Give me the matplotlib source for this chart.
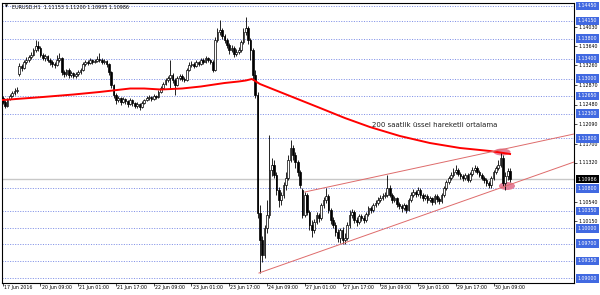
"""
EURUSD H1 candlestick chart, 17-30 Jun 2016, with the 200 EMA and a wedge.
"""

import matplotlib
matplotlib.use('Agg')
import matplotlib.pyplot as plt
import matplotlib.transforms as mtransforms
from matplotlib.patches import Ellipse

# Price data (H1 bars, bar 0 = 17 Jun 17:00)
# ----------------------------------------------------------------------------

opens = [
    1.1261, 1.1253, 1.1245, 1.1259, 1.1265, 1.1271, 1.1275, 1.1309, 1.1325, 1.1321, 1.1333, 1.1337,
    1.1343, 1.1347, 1.1357, 1.1365, 1.1361, 1.1347, 1.1341, 1.1345, 1.1337, 1.1333, 1.1329, 1.1327,
    1.1337, 1.1341, 1.1313, 1.1309, 1.1317, 1.1307, 1.1311, 1.1305, 1.1309, 1.1313, 1.1317, 1.1329,
    1.1333, 1.1331, 1.1337, 1.1333, 1.1335, 1.1339, 1.1337, 1.1333, 1.1335, 1.1329, 1.1313, 1.1287,
    1.1267, 1.1257, 1.1261, 1.1253, 1.1259, 1.1255, 1.1249, 1.1257, 1.1251, 1.1245, 1.1249, 1.1243,
    1.1251, 1.1257, 1.1261, 1.1263, 1.1259, 1.1265, 1.1263, 1.1273, 1.1281, 1.1289, 1.1297, 1.1301,
    1.1307, 1.1297, 1.1287, 1.1301, 1.1305, 1.1299, 1.1297, 1.1317, 1.1327, 1.1329, 1.1325, 1.1333,
    1.1329, 1.1337, 1.1333, 1.1341, 1.1337, 1.1333, 1.1317, 1.1377, 1.1393, 1.1397, 1.1385, 1.1377,
    1.1367, 1.1357, 1.1361, 1.1349, 1.1353, 1.1357, 1.1373, 1.1393, 1.1401, 1.1377, 1.1357, 1.1307,
    1.1267, 1.1031, 1.0977, 1.0947, 1.1001, 1.1027, 1.1117, 1.1127, 1.1107, 1.1077, 1.1057, 1.1067,
    1.1087, 1.1101, 1.1137, 1.1161, 1.1147, 1.1133, 1.1113, 1.1077, 1.1027, 1.1067, 1.1033, 1.1007,
    1.0997, 1.1013, 1.1027, 1.1021, 1.1047, 1.1057, 1.1065, 1.1037, 1.1017, 1.1007, 1.0993, 1.0981,
    1.0997, 1.0977, 1.0981, 1.1007, 1.1027, 1.1033, 1.1017, 1.1013, 1.1025, 1.1021, 1.1017, 1.1029,
    1.1041, 1.1037, 1.1047, 1.1051, 1.1057, 1.1061, 1.1065, 1.1067, 1.1081, 1.1067, 1.1057, 1.1061,
    1.1049, 1.1045, 1.1041, 1.1047, 1.1037, 1.1057, 1.1067, 1.1073, 1.1069, 1.1077, 1.1067, 1.1061,
    1.1065, 1.1057, 1.1061, 1.1053, 1.1065, 1.1059, 1.1055, 1.1067, 1.1081, 1.1093, 1.1101, 1.1107,
    1.1113, 1.1117, 1.1109, 1.1105, 1.1101, 1.1107, 1.1097, 1.1109, 1.1117, 1.1121, 1.1113, 1.1107,
    1.1101, 1.1097, 1.1091, 1.1087, 1.1101, 1.1113, 1.1121, 1.1127, 1.1141, 1.1091, 1.1105, 1.11153,
]

highs = [
    1.1265, 1.1257, 1.1261, 1.1269, 1.1275, 1.1281, 1.1283, 1.1331, 1.1329, 1.1337, 1.1343, 1.1347,
    1.1353, 1.1361, 1.1377, 1.1375, 1.1365, 1.1351, 1.1349, 1.1347, 1.1341, 1.1337, 1.1333, 1.1347,
    1.1351, 1.1343, 1.1317, 1.1319, 1.1321, 1.1315, 1.1313, 1.1313, 1.1317, 1.1321, 1.1333, 1.1337,
    1.1337, 1.1341, 1.1339, 1.1339, 1.1345, 1.1351, 1.1341, 1.1339, 1.1337, 1.1331, 1.1315, 1.1289,
    1.1271, 1.1265, 1.1263, 1.1263, 1.1261, 1.1257, 1.1261, 1.1259, 1.1253, 1.1253, 1.1251, 1.1255,
    1.1259, 1.1265, 1.1267, 1.1265, 1.1269, 1.1267, 1.1277, 1.1285, 1.1293, 1.1301, 1.1305, 1.1337,
    1.1311, 1.1301, 1.1305, 1.1309, 1.1309, 1.1303, 1.1321, 1.1333, 1.1335, 1.1333, 1.1337, 1.1335,
    1.1341, 1.1341, 1.1345, 1.1343, 1.1339, 1.1337, 1.1383, 1.1401, 1.1417, 1.1401, 1.1389, 1.1381,
    1.1371, 1.1367, 1.1365, 1.1359, 1.1363, 1.1377, 1.1401, 1.1423, 1.1405, 1.1381, 1.1361, 1.1317,
    1.1273, 1.1047, 1.0985, 1.1007, 1.1057, 1.1187, 1.1141, 1.1137, 1.1113, 1.1083, 1.1073, 1.1093,
    1.1113, 1.1147, 1.1177, 1.1167, 1.1153, 1.1137, 1.1117, 1.1081, 1.1073, 1.1071, 1.1037, 1.1017,
    1.1019, 1.1033, 1.1031, 1.1051, 1.1063, 1.1081, 1.1069, 1.1041, 1.1023, 1.1013, 1.0999, 1.1001,
    1.1003, 1.0991, 1.1013, 1.1037, 1.1039, 1.1037, 1.1023, 1.1029, 1.1029, 1.1027, 1.1033, 1.1045,
    1.1045, 1.1051, 1.1057, 1.1063, 1.1067, 1.1071, 1.1073, 1.1107, 1.1087, 1.1071, 1.1065, 1.1063,
    1.1053, 1.1049, 1.1051, 1.1049, 1.1061, 1.1073, 1.1079, 1.1077, 1.1083, 1.1081, 1.1071, 1.1069,
    1.1069, 1.1065, 1.1063, 1.1069, 1.1069, 1.1063, 1.1071, 1.1085, 1.1097, 1.1105, 1.1113, 1.1121,
    1.1127, 1.1121, 1.1113, 1.1109, 1.1111, 1.1111, 1.1113, 1.1123, 1.1127, 1.1125, 1.1117, 1.1111,
    1.1105, 1.1101, 1.1095, 1.1105, 1.1117, 1.1125, 1.1137, 1.1153, 1.1147, 1.1113, 1.1121, 1.11200,
]

lows = [
    1.1249, 1.1241, 1.1243, 1.1257, 1.1263, 1.1267, 1.1271, 1.1305, 1.1315, 1.1319, 1.1329, 1.1333,
    1.1339, 1.1345, 1.1353, 1.1355, 1.1343, 1.1337, 1.1335, 1.1333, 1.1327, 1.1323, 1.1321, 1.1325,
    1.1333, 1.1307, 1.1303, 1.1305, 1.1301, 1.1303, 1.1301, 1.1301, 1.1305, 1.1309, 1.1315, 1.1325,
    1.1327, 1.1329, 1.1329, 1.1331, 1.1333, 1.1333, 1.1329, 1.1329, 1.1323, 1.1307, 1.1281, 1.1261,
    1.1249, 1.1253, 1.1247, 1.1251, 1.1249, 1.1243, 1.1247, 1.1245, 1.1241, 1.1241, 1.1237, 1.1241,
    1.1249, 1.1255, 1.1257, 1.1255, 1.1257, 1.1259, 1.1261, 1.1271, 1.1279, 1.1287, 1.1293, 1.1281,
    1.1291, 1.1267, 1.1285, 1.1297, 1.1295, 1.1293, 1.1295, 1.1315, 1.1323, 1.1321, 1.1323, 1.1325,
    1.1327, 1.1329, 1.1331, 1.1333, 1.1329, 1.1313, 1.1315, 1.1373, 1.1387, 1.1379, 1.1371, 1.1361,
    1.1349, 1.1353, 1.1343, 1.1345, 1.1349, 1.1353, 1.1369, 1.1387, 1.1369, 1.1337, 1.1297, 1.1261,
    1.1021, 1.0911, 1.0933, 1.0941, 1.0991, 1.1021, 1.1105, 1.1101, 1.1067, 1.1043, 1.1047, 1.1061,
    1.1077, 1.1097, 1.1133, 1.1137, 1.1121, 1.1105, 1.1081, 1.1021, 1.1023, 1.1027, 1.0997, 1.0983,
    1.0991, 1.1009, 1.1013, 1.1017, 1.1041, 1.1051, 1.1031, 1.1009, 1.1001, 1.0985, 1.0973, 1.0971,
    1.0969, 1.0969, 1.0977, 1.1001, 1.1021, 1.1011, 1.1005, 1.1009, 1.1015, 1.1011, 1.1013, 1.1025,
    1.1031, 1.1033, 1.1043, 1.1047, 1.1053, 1.1057, 1.1061, 1.1063, 1.1063, 1.1051, 1.1053, 1.1043,
    1.1039, 1.1033, 1.1037, 1.1031, 1.1035, 1.1053, 1.1063, 1.1063, 1.1065, 1.1061, 1.1055, 1.1057,
    1.1051, 1.1053, 1.1047, 1.1049, 1.1053, 1.1049, 1.1051, 1.1063, 1.1077, 1.1089, 1.1097, 1.1103,
    1.1109, 1.1105, 1.1099, 1.1095, 1.1097, 1.1093, 1.1093, 1.1105, 1.1113, 1.1109, 1.1103, 1.1097,
    1.1091, 1.1085, 1.1081, 1.1081, 1.1097, 1.1109, 1.1117, 1.1123, 1.1085, 1.1077, 1.1097, 1.10935,
]

closes = [
    1.1253, 1.1245, 1.1259, 1.1265, 1.1271, 1.1275, 1.1277, 1.1325, 1.1321, 1.1333, 1.1337, 1.1343,
    1.1347, 1.1357, 1.1365, 1.1361, 1.1347, 1.1341, 1.1345, 1.1337, 1.1333, 1.1329, 1.1327, 1.1337,
    1.1341, 1.1313, 1.1309, 1.1317, 1.1307, 1.1311, 1.1305, 1.1309, 1.1313, 1.1317, 1.1329, 1.1333,
    1.1331, 1.1337, 1.1333, 1.1335, 1.1339, 1.1337, 1.1333, 1.1335, 1.1329, 1.1313, 1.1287, 1.1267,
    1.1257, 1.1261, 1.1253, 1.1259, 1.1255, 1.1249, 1.1257, 1.1251, 1.1245, 1.1249, 1.1243, 1.1251,
    1.1257, 1.1261, 1.1263, 1.1259, 1.1265, 1.1263, 1.1273, 1.1281, 1.1289, 1.1297, 1.1301, 1.1307,
    1.1297, 1.1287, 1.1301, 1.1305, 1.1299, 1.1297, 1.1317, 1.1327, 1.1329, 1.1325, 1.1333, 1.1329,
    1.1337, 1.1333, 1.1341, 1.1337, 1.1333, 1.1317, 1.1377, 1.1393, 1.1397, 1.1385, 1.1377, 1.1367,
    1.1357, 1.1361, 1.1349, 1.1353, 1.1357, 1.1373, 1.1393, 1.1401, 1.1377, 1.1357, 1.1307, 1.1267,
    1.1031, 1.0977, 1.0947, 1.1001, 1.1027, 1.1117, 1.1127, 1.1107, 1.1077, 1.1057, 1.1067, 1.1087,
    1.1101, 1.1137, 1.1161, 1.1147, 1.1133, 1.1113, 1.1087, 1.1027, 1.1067, 1.1033, 1.1007, 1.0997,
    1.1013, 1.1027, 1.1021, 1.1047, 1.1057, 1.1065, 1.1037, 1.1017, 1.1007, 1.0993, 1.0981, 1.0997,
    1.0977, 1.0981, 1.1007, 1.1027, 1.1033, 1.1017, 1.1013, 1.1025, 1.1021, 1.1017, 1.1029, 1.1041,
    1.1037, 1.1047, 1.1051, 1.1057, 1.1061, 1.1065, 1.1067, 1.1081, 1.1067, 1.1057, 1.1061, 1.1049,
    1.1045, 1.1041, 1.1047, 1.1037, 1.1057, 1.1067, 1.1073, 1.1069, 1.1077, 1.1067, 1.1061, 1.1065,
    1.1057, 1.1061, 1.1053, 1.1065, 1.1059, 1.1055, 1.1067, 1.1081, 1.1093, 1.1101, 1.1107, 1.1113,
    1.1117, 1.1109, 1.1105, 1.1101, 1.1107, 1.1097, 1.1109, 1.1117, 1.1121, 1.1113, 1.1107, 1.1101,
    1.1097, 1.1091, 1.1087, 1.1101, 1.1113, 1.1121, 1.1127, 1.1141, 1.1091, 1.1105, 1.1115, 1.10986,
]

# 200 period EMA at a few bars
ma_bars = [0, 17, 30, 41, 54, 60, 67, 76, 84, 94, 100, 103, 105.6, 109, 117.5, 126, 134.5,
           145, 155.6, 168.3, 181, 193.8, 206.5, 215]
ma_vals = [1.1257, 1.1263, 1.1268, 1.1273, 1.1280, 1.1280, 1.1278, 1.1280, 1.1284, 1.1291,
           1.1294, 1.1296, 1.1299, 1.1289, 1.1273, 1.1257, 1.1241, 1.1221, 1.1203, 1.1185,
           1.1171, 1.1161, 1.1155, 1.1149]

# Chart objects
levels = [1.14450, 1.14150, 1.13800, 1.13400, 1.13000, 1.12650, 1.12300,
          1.11800, 1.10800, 1.10350, 1.10000, 1.09700, 1.09350, 1.09000]
price_ticks = [1.14030, 1.13640, 1.13260, 1.12870, 1.12480, 1.12090, 1.11700,
               1.11320, 1.10540, 1.10150]
last_price = 1.10986
lower_line = ([108.6, 242.1], [1.0911, 1.1133])
upper_line = ([128.0, 242.1], [1.1073, 1.1189])
marks = [(211.6, 1.1153, 7.2, 0.0014), (213.7, 1.1085, 6.8, 0.0016)]

time_bars = [0, 16, 32, 48, 64, 80, 96, 112, 128, 144, 160, 176, 192, 208]
time_labels = ['17 Jun 2016', '20 Jun 09:00', '21 Jun 01:00', '21 Jun 17:00', '22 Jun 09:00',
               '23 Jun 01:00', '23 Jun 17:00', '24 Jun 09:00', '27 Jun 01:00', '27 Jun 17:00',
               '28 Jun 09:00', '29 Jun 01:00', '29 Jun 17:00', '30 Jun 09:00']

# Plot
# ----------------------------------------------------------------------------

plt.rcParams['font.family'] = ['DejaVu Sans']

fig = plt.figure(figsize=(6, 2.95), dpi=100)
ax = fig.add_axes([2 / 600, 12 / 295, 572 / 600, 280 / 295])
ax.set_xlim(-0.3, 242.1)
ax.set_ylim(1.0891, 1.1451)

for lv in levels:
    ax.axhline(lv, color='#7b8ce6', lw=0.65, ls=(0, (1.2, 1.6)), zorder=1)
ax.axhline(last_price, color='#c8c8c8', lw=1.0, zorder=1)

for xc, yc, w, h in marks:
    ax.add_patch(Ellipse((xc, yc), w, h, fc='#e3728f', ec='none', alpha=0.9, zorder=1.5))

bars = range(len(closes))
ax.vlines(bars, lows, highs, color='black', lw=0.6, zorder=2)
bottoms = [min(o, c) for o, c in zip(opens, closes)]
heights = [abs(c - o) for o, c in zip(opens, closes)]
fills = ['white' if c >= o else 'black' for o, c in zip(opens, closes)]
ax.bar(bars, heights, bottom=bottoms, width=0.72, color=fills, edgecolor='black',
       linewidth=0.5, zorder=2.2)

ax.plot(ma_bars, ma_vals, color='#ff0000', lw=1.4, zorder=3, solid_joinstyle='round')
ax.plot(*lower_line, color='#de6b6b', lw=0.7, zorder=3)
ax.plot(*upper_line, color='#de6b6b', lw=0.7, zorder=3)

ax.text(156.5, 1.1207, '200 saatlik üssel hareketli ortalama', fontsize=5,
        color='#202020', va='center', ha='left', zorder=4)

# Axes styling
for sp in ax.spines.values():
    sp.set_color('black')
    sp.set_linewidth(0.8)

ax.yaxis.tick_right()
ax.set_yticks(price_ticks)
ax.set_yticklabels(['%.5f' % p for p in price_ticks])
ax.tick_params(axis='y', length=2, width=0.5, pad=1.5, labelsize=3.4)

ax.set_xticks(time_bars)
ax.tick_params(axis='x', length=2.5, width=0.5, labelbottom=False)
tx = mtransforms.blended_transform_factory(ax.transData, ax.transAxes)
for b, lab in zip(time_bars, time_labels):
    ax.text(b + 0.5, -0.016, lab, transform=tx, fontsize=3.4, ha='left', va='center')

ty = mtransforms.blended_transform_factory(ax.transAxes, ax.transData)
for lv in levels:
    ax.text(1 + 3.5 / 572, lv, '%.5f' % lv, transform=ty, fontsize=3.4, color='white',
            ha='left', va='center', clip_on=False, zorder=5,
            bbox=dict(boxstyle='square,pad=0.35', fc='#4169e1', ec='none'))
ax.text(1 + 3.5 / 572, last_price, '%.5f' % last_price, transform=ty, fontsize=3.4,
        color='white', ha='left', va='center', clip_on=False, zorder=6,
        bbox=dict(boxstyle='square,pad=0.35', fc='black', ec='none'))

fig.text(5 / 600, 1 - 7 / 295, '\u25bc', fontsize=2.8, va='center', ha='left')
fig.text(12 / 600, 1 - 7 / 295, 'EURUSD,H1  1.11153 1.11200 1.10935 1.10986',
         fontsize=3.5, va='center', ha='left')

fig.savefig('out.png', dpi=100)
